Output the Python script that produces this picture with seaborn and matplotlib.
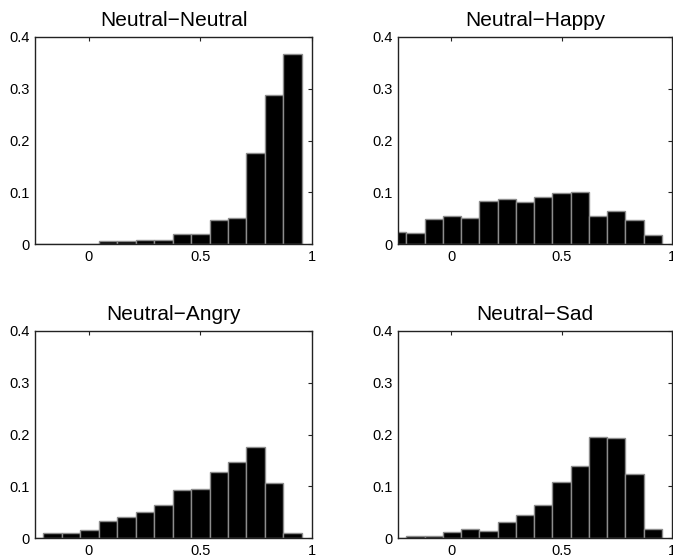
import matplotlib
matplotlib.use("Agg")
import matplotlib.pyplot as plt
import seaborn as sns
import numpy as np
import pandas as pd

# histogram bin centres shared by all panels (15 bins)
bin_centers = [-0.243, -0.160, -0.078, 0.005, 0.087, 0.170, 0.252, 0.335,
               0.417, 0.500, 0.583, 0.665, 0.748, 0.830, 0.913]
bin_edges = list(np.linspace(-0.2846, 0.9546, 16))

titles = ["Neutral\u2212Neutral", "Neutral\u2212Happy",
          "Neutral\u2212Angry", "Neutral\u2212Sad"]

neutral_neutral = [0, 0, 0, 0, 0.005, 0.005, 0.008, 0.008, 0.019, 0.019,
                   0.046, 0.050, 0.176, 0.287, 0.368]
neutral_happy = [0.023, 0.022, 0.049, 0.055, 0.050, 0.084, 0.087, 0.082,
                 0.091, 0.099, 0.101, 0.054, 0.064, 0.046, 0.017]
neutral_angry = [0, 0.010, 0.010, 0.015, 0.033, 0.041, 0.050, 0.063,
                 0.092, 0.095, 0.128, 0.147, 0.175, 0.106, 0.010]
neutral_sad = [0, 0.004, 0.004, 0.011, 0.017, 0.014, 0.030, 0.044,
               0.064, 0.108, 0.140, 0.195, 0.194, 0.124, 0.018]

panels = [neutral_neutral, neutral_happy, neutral_angry, neutral_sad]

sns.set_style("white")
plt.rcParams['font.family'] = ['Liberation Sans', 'DejaVu Sans']
plt.rcParams['text.color'] = 'black'
plt.rcParams['xtick.color'] = 'black'
plt.rcParams['ytick.color'] = 'black'

W, H = 673, 557
fig = plt.figure(figsize=(W / 100, H / 100), dpi=100)

# axes boxes in pixels: left, top, width, height
boxes = [(35, 37, 277, 207), (398, 37, 274, 207),
         (35, 331, 277, 207), (398, 331, 274, 207)]

for vals, title, (l, t, w, h) in zip(panels, titles, boxes):
    ax = fig.add_axes([l / W, 1 - (t + h) / H, w / W, h / H])
    df = pd.DataFrame({"score": bin_centers, "freq": vals})
    sns.histplot(data=df, x="score", weights="freq", bins=bin_edges, ax=ax,
                 color='black', edgecolor='#8c8c8c', linewidth=1.0, alpha=1)
    ax.set_xlim(-0.24, 1.0)
    ax.set_ylim(0, 0.4)
    ax.set_xticks([0, 0.5, 1])
    ax.set_xticklabels(["0", "0.5", "1"])
    ax.set_yticks([0, 0.1, 0.2, 0.3, 0.4])
    ax.set_yticklabels(["0", "0.1", "0.2", "0.3", "0.4"])
    ax.set_xlabel("")
    ax.set_ylabel("")
    ax.tick_params(direction='in', length=3, width=0.8, top=True, right=True,
                   labelsize=10.5, pad=4, color='#222222', labelcolor='black')
    for s in ax.spines.values():
        s.set_visible(True)
        s.set_color('#222222')
        s.set_linewidth(1.0)
    ax.set_title(title, fontsize=15, pad=8, color='black')

fig.savefig("out.png", dpi=100)
